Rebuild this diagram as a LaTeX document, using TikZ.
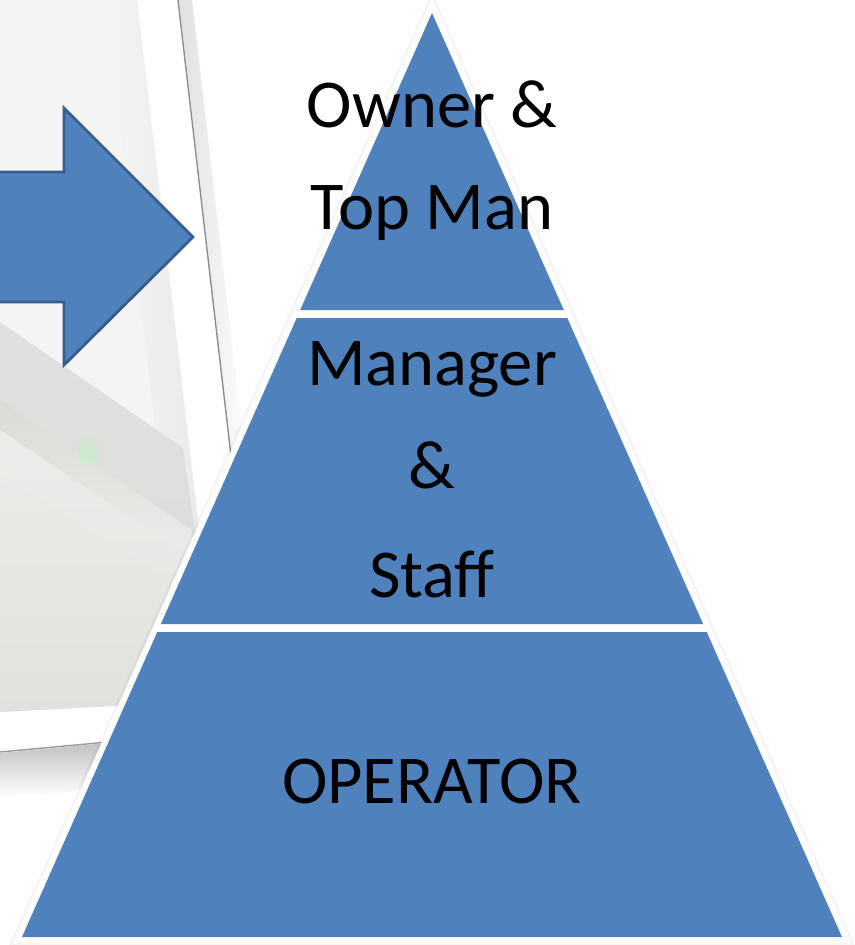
\documentclass[tikz,border=0pt]{standalone}
\usepackage{fontspec}
\setmainfont{Carlito}
\definecolor{tierblue}{HTML}{4F81BD}
\definecolor{arrowedge}{HTML}{385D8A}
\definecolor{screengrey}{HTML}{F4F4F4}
\definecolor{darkgrey}{HTML}{DADAD6}
\definecolor{lightband}{HTML}{ECECEA}
\definecolor{lowgrey}{HTML}{E1E1DD}
\begin{document}
\begin{tikzpicture}[x=1pt,y=-1pt,
  tier/.style={fill=tierblue,draw=none},
  tiertext/.style={font=\fontsize{68.5}{80}\selectfont,anchor=base,inner sep=0pt,text=black},
  blockarrow/.style={fill=tierblue,draw=arrowedge,line width=2.8pt,line join=miter}]
\useasboundingbox (0,0) rectangle (854,945);
\fill[white] (0,0) rectangle (854,945);
% --- background photo: screen ---
\fill[screengrey] (0,0) -- (137,0) -- (219,700) -- (0,712) -- cycle;
\shade[left color=screengrey,right color=black!9] (105,0) -- (137,0) -- (219,700) -- (187,700) -- cycle;
\shade[top color=black!12,bottom color=darkgrey] (0,322) -- (183,448) -- (219,700) -- (0,712) -- cycle;
\shade[top color=darkgrey,bottom color=lightband] (0,400) -- (192,530) -- (195,560) -- (0,430) -- cycle;
\shade[top color=lightband,bottom color=lightband!70!darkgrey] (0,430) -- (195,560) -- (200,600) -- (0,475) -- cycle;
\shade[top color=lightband!80!lowgrey,bottom color=lowgrey] (0,475) -- (200,600) -- (219,700) -- (0,712) -- cycle;
\fill[green!35!white,opacity=0.25] (88,452) ellipse [x radius=10,y radius=15];
% bezel line and its shadow
\shade[left color=black!12,right color=white] (179,0) -- (192,0) -- (249,490) -- (236,490) -- cycle;
\draw[black!45,line width=1.4pt] (178,0) -- (235,490);
% bottom bezel line and shadow
\shade[top color=black!25,bottom color=white] (0,753) -- (140,740) -- (140,785) -- (0,798) -- cycle;
\draw[black!40,line width=1.4pt] (0,752) -- (140,739);
% --- block arrow ---
\draw[blockarrow] (-5,172) -- (64,172) -- (64,108) -- (193,237) -- (64,365) -- (64,302) -- (-5,302) -- cycle;
% --- pyramid outline ---
\draw[black,opacity=0.04,line width=17pt,line join=miter] (432,13) -- (842,937) -- (22,937) -- cycle;
\draw[white,fill=white,line width=12pt,line join=miter] (432,13) -- (842,937) -- (22,937) -- cycle;
% --- tiers ---
\fill[tier] (432,13) -- (563.8,310) -- (300.2,310) -- cycle;
\fill[tier] (296.7,318) -- (567.3,318) -- (703.1,624) -- (160.9,624) -- cycle;
\fill[tier] (157.3,632) -- (706.7,632) -- (842,937) -- (22,937) -- cycle;
% --- texts ---
\node[tiertext] (owner) at (432,127) {Owner \&};
\node[tiertext] (topman) at (432,229) {Top Man};
\node[tiertext] (manager) at (432,385) {Manager};
\node[tiertext] (amp) at (432,488) {\&};
\node[tiertext] (staff) at (432,597) {Staff};
\node[tiertext] (operator) at (432,803) {OPERATOR};
\end{tikzpicture}
\end{document}
